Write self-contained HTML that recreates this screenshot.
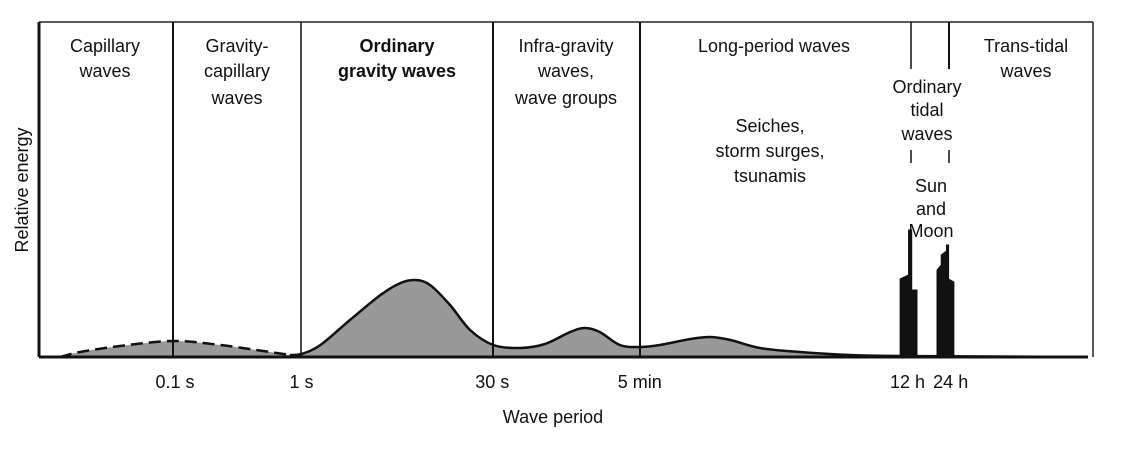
<!DOCTYPE html>
<html><head><meta charset="utf-8"><style>
body{margin:0;background:#fff;}
svg text{font-family:"Liberation Sans",sans-serif;font-size:18px;fill:#111;}
</style></head><body>
<svg id="chart" width="1122" height="445" viewBox="0 0 1122 445" xmlns="http://www.w3.org/2000/svg">
<g id="frame">
<line x1="39" y1="22" x2="1093" y2="22" stroke="#222" stroke-width="1.5"/>
<line x1="39" y1="22" x2="39" y2="357" stroke="#111" stroke-width="3"/>
<line x1="1093" y1="22" x2="1093" y2="357" stroke="#222" stroke-width="1.5"/>
</g>
<g id="marks"></g>
<g id="dividers">
<line x1="173" y1="22" x2="173" y2="357" stroke="#111" stroke-width="2"/>
<line x1="301" y1="22" x2="301" y2="357" stroke="#111" stroke-width="1.5"/>
<line x1="493" y1="22" x2="493" y2="357" stroke="#111" stroke-width="2"/>
<line x1="640" y1="22" x2="640" y2="357" stroke="#111" stroke-width="2"/>
<line x1="911" y1="22" x2="911" y2="69" stroke="#111" stroke-width="1.5"/>
<line x1="949" y1="22" x2="949" y2="69" stroke="#111" stroke-width="2"/>
<line x1="911" y1="150" x2="911" y2="163" stroke="#111" stroke-width="1.5"/>
<line x1="949" y1="150" x2="949" y2="163" stroke="#111" stroke-width="1.5"/>
</g>
<line x1="39" y1="357" x2="1088" y2="357" stroke="#111" stroke-width="3"/>
<g text-anchor="middle">
<text x="105" y="52">Capillary</text>
<text x="105" y="77">waves</text>
<text x="237" y="52">Gravity-</text>
<text x="237" y="77">capillary</text>
<text x="237" y="104">waves</text>
<text x="397" y="52" font-weight="bold">Ordinary</text>
<text x="397" y="77" font-weight="bold">gravity waves</text>
<text x="566" y="52">Infra-gravity</text>
<text x="566" y="77">waves,</text>
<text x="566" y="104">wave groups</text>
<text x="774" y="52">Long-period waves</text>
<text x="770" y="132">Seiches,</text>
<text x="770" y="157">storm surges,</text>
<text x="770" y="182">tsunamis</text>
<text x="927" y="93">Ordinary</text>
<text x="927" y="116">tidal</text>
<text x="927" y="140">waves</text>
<text x="931" y="192">Sun</text>
<text x="931" y="215">and</text>
<text x="931" y="237">Moon</text>
<text x="1026" y="52">Trans-tidal</text>
<text x="1026" y="77">waves</text>
</g>
<g id="ticks" text-anchor="middle"></g>
<text x="553" y="423" text-anchor="middle">Wave period</text>
<text x="0" y="0" text-anchor="middle" transform="translate(28,190) rotate(-90)">Relative energy</text>
</svg>
<script>
const curveU = [2.0,3.9,7.7,12.7,17.2,21.9,23.8,24.9,26.7,29.5,32.4,34.3,35.7,37.1,39.0,40.9,43.1,45.6,48.0,50.4,51.8,53.2,55.1,57.0,58.9,61.8,63.7,65.6,68.4,72.2,76.9,81.7,99.5];
const curveE = [0,5,11,16,12,5,2,3,12,37,62,74,77,72,52,27,12,9,13,25,29,25,12,10,12,18,20,17,9,5,2,1,0];
const dashedEnd = 6;
const spike12U = [81.7,81.7,82.5,82.5,82.8,82.8,83.3,83.3];
const spike12E = [0,78,82,127,127,67,67,0];
const spike24U = [85.2,85.2,85.6,85.6,86.1,86.1,86.3,86.3,86.8,86.8];
const spike24E = [0,87,92,102,106,112,112,78,75,0];
const tickLabels = ["0.1 s","1 s","30 s","5 min","12 h","24 h"];
const tickU = [12.9,24.9,43.0,57.0,82.4,86.5];
const NS="http://www.w3.org/2000/svg";
function xS(u){return 39+u*10.54;}
function yS(e){return 357-e;}
const marks=document.getElementById('marks');
function smooth(from,to){
  const P=[];
  for(let i=from;i<=to;i++)P.push([xS(curveU[i]),yS(curveE[i])]);
  let s='';
  for(let i=0;i<P.length-1;i++){
    const p0=P[Math.max(i-1,0)],p1=P[i],p2=P[i+1],p3=P[Math.min(i+2,P.length-1)];
    const c1=[p1[0]+(p2[0]-p0[0])/6,p1[1]+(p2[1]-p0[1])/6];
    const c2=[p2[0]-(p3[0]-p1[0])/6,p2[1]-(p3[1]-p1[1])/6];
    s+=' C'+c1[0]+','+c1[1]+' '+c2[0]+','+c2[1]+' '+p2[0]+','+p2[1];
  }
  return {start:P[0],seg:s};
}
const full=smooth(0,curveU.length-1);
const area=document.createElementNS(NS,'path');
area.setAttribute('d','M'+full.start[0]+','+full.start[1]+full.seg+' Z');
area.setAttribute('fill','#999');


marks.appendChild(area);
function line(from,to,dash,name){
  const sm=smooth(from,to);
  const el=document.createElementNS(NS,'path');
  el.setAttribute('d','M'+sm.start[0]+','+sm.start[1]+sm.seg);
  el.setAttribute('fill','none');el.setAttribute('stroke','#111');el.setAttribute('stroke-width','2.5');
  if(dash)el.setAttribute('stroke-dasharray','12 6');
  
  
  marks.appendChild(el);
}
line(0,dashedEnd,true,'spectrum-dashed-line');
line(dashedEnd,curveU.length-1,false,'spectrum-solid-line');
function spike(us,es,name){
  const el=document.createElementNS(NS,'polygon');
  el.setAttribute('points',us.map((u,i)=>xS(u)+','+yS(es[i])).join(' '));
  el.setAttribute('fill','#111');el.setAttribute('stroke','#111');el.setAttribute('stroke-width','1');
  
  
  marks.appendChild(el);
}
spike(spike12U,spike12E,'tide-spike-12h');
spike(spike24U,spike24E,'tide-spike-24h');
const tg=document.getElementById('ticks');
tickLabels.forEach((t,i)=>{
  const el=document.createElementNS(NS,'text');
  el.setAttribute('x',xS(tickU[i]));el.setAttribute('y',388);el.textContent=t;
  
  
  tg.appendChild(el);
});
</script>
</body></html>
